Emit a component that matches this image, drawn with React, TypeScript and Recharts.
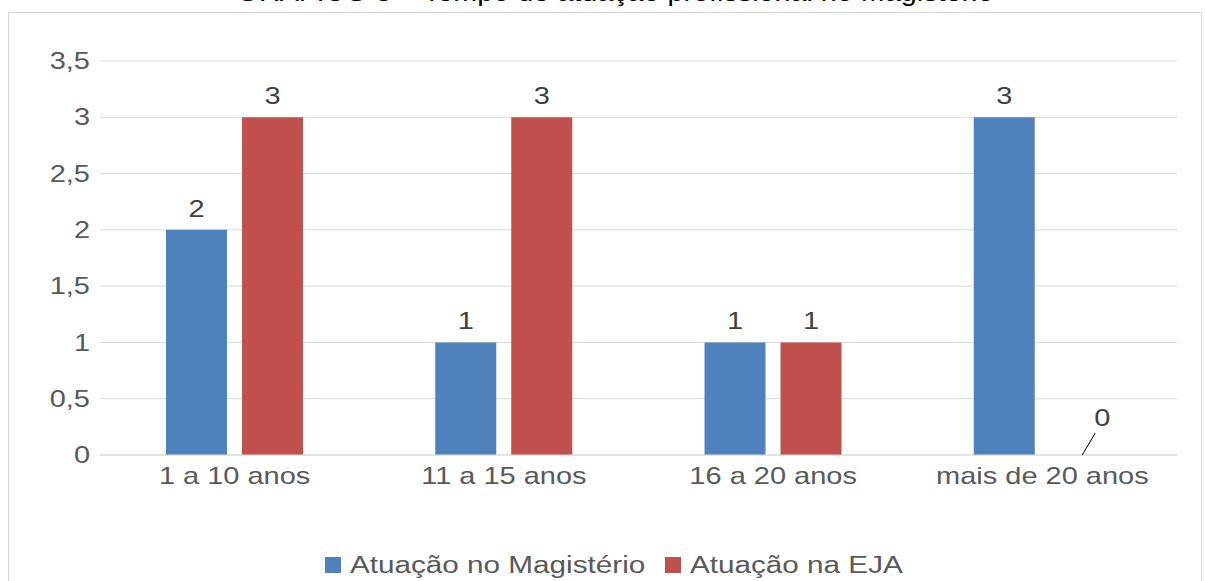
import React from 'react';
import { BarChart, Bar, XAxis, YAxis, CartesianGrid, Legend, LabelList, Cell } from 'recharts';

const categories = ['1 a 10 anos', '11 a 15 anos', '16 a 20 anos', 'mais de 20 anos'];
const magisterio = [2, 1, 1, 3];
const eja = [3, 3, 1, 0];
const yTicks = [0, 0.5, 1, 1.5, 2, 2.5, 3, 3.5];

const BLUE = '#4F81BD';
const RED = '#C0504D';
const FONT = '"Liberation Sans", Arial, sans-serif';
const FS = 23;
const SX = 1.26; // glyphs are drawn a bit wider than normal

const data = categories.map((name, i) => ({
  name,
  magisterio: magisterio[i],
  eja: eja[i],
}));

const fmt = (v: number) => String(v).replace('.', ',');

function WideText({ x, y, anchor, dy, fill, children }: any) {
  return (
    <g transform={`translate(${x},${y})`}>
      <text transform={`scale(${SX},1)`} textAnchor={anchor} dy={dy} fill={fill} fontSize={FS} fontFamily={FONT}>
        {children}
      </text>
    </g>
  );
}

function XTick(props: any) {
  const { x, y, payload } = props;
  return (
    <WideText x={x} y={y} anchor="middle" dy="0.71em" fill="#595959">
      {payload.value}
    </WideText>
  );
}

function YTick(props: any) {
  const { x, y, payload } = props;
  return (
    <WideText x={x} y={y} anchor="end" dy="0.355em" fill="#595959">
      {fmt(payload.value)}
    </WideText>
  );
}

// value label above each bar; zero values get a short leader line
function ValueLabel(props: any) {
  const { x, y, width, height, value } = props;
  const cx = x + width / 2;
  if (value === 0) {
    const base = y + height;
    return (
      <g>
        <line x1={cx + 2} y1={base} x2={cx + 15} y2={base - 22} stroke="#000" strokeWidth={1} />
        <WideText x={cx + 22} y={base - 29} anchor="middle" dy={0} fill="#404040">
          {fmt(value)}
        </WideText>
      </g>
    );
  }
  return (
    <WideText x={cx} y={y - 13} anchor="middle" dy={0} fill="#404040">
      {fmt(value)}
    </WideText>
  );
}

const legendItems = [
  { label: 'Atuação no Magistério', color: BLUE, left: 325 },
  { label: 'Atuação na EJA', color: RED, left: 665 },
];

function LegendContent() {
  return (
    <div style={{ position: 'relative', height: 28, fontFamily: FONT, fontSize: FS, color: '#595959' }}>
      {legendItems.map((it) => (
        <div key={it.label} style={{ position: 'absolute', left: it.left, top: 0, display: 'flex', alignItems: 'center', height: 28 }}>
          <span style={{ width: 16, height: 16, background: it.color, display: 'inline-block', marginRight: 9 }} />
          <span style={{ display: 'inline-block', transform: 'scaleX(1.29)', transformOrigin: 'left center', whiteSpace: 'nowrap' }}>
            {it.label}
          </span>
        </div>
      ))}
    </div>
  );
}

export default function App() {
  return (
    <div style={{ position: 'fixed', left: 0, top: 0, width: 1205, height: 581, background: '#fff', overflow: 'hidden' }}>
      <div
        style={{
          position: 'absolute',
          left: 0,
          width: 1230,
          top: -22,
          textAlign: 'center',
          fontFamily: FONT,
          fontSize: 25,
          color: '#000',
          whiteSpace: 'nowrap',
          transform: 'scaleX(1.15)',
        }}
      >
        GRÁFICO 3 – Tempo de atuação profissional no Magistério
      </div>
      <div
        style={{
          position: 'absolute',
          left: 8,
          top: 12,
          width: 1194,
          height: 620,
          border: '1px solid #d9d9d9',
          boxSizing: 'border-box',
        }}
      />
      <div style={{ position: 'absolute', left: 0, top: 0 }}>
        <BarChart
          width={1205}
          height={581}
          data={data}
          margin={{ top: 61, right: 28, bottom: 81, left: 10 }}
          barSize={61}
          barGap={15}
        >
          <CartesianGrid vertical={false} stroke="#d9d9d9" />
          <XAxis
            dataKey="name"
            height={45}
            tickLine={false}
            axisLine={{ stroke: '#d9d9d9' }}
            tickMargin={7}
            tick={<XTick />}
            interval={0}
          />
          <YAxis
            width={90}
            domain={[0, 3.5]}
            ticks={yTicks}
            tickLine={false}
            axisLine={false}
            tickMargin={4}
            tick={<YTick />}
          />
          <Legend
            layout="horizontal"
            align="center"
            verticalAlign="middle"
            wrapperStyle={{ top: 551, left: 0, width: 1205 }}
            content={<LegendContent />}
          />
          <Bar dataKey="magisterio" fill={BLUE} isAnimationActive={false}>
            <LabelList dataKey="magisterio" content={<ValueLabel />} />
          </Bar>
          <Bar
            dataKey="eja"
            fill={RED}
            isAnimationActive={false}
            minPointSize={(v: any) => (v === 0 ? 1 : 0)}
          >
            {eja.map((v, i) => (
              <Cell key={i} fill={v === 0 ? 'transparent' : RED} />
            ))}
            <LabelList dataKey="eja" content={<ValueLabel />} />
          </Bar>
        </BarChart>
      </div>
    </div>
  );
}
